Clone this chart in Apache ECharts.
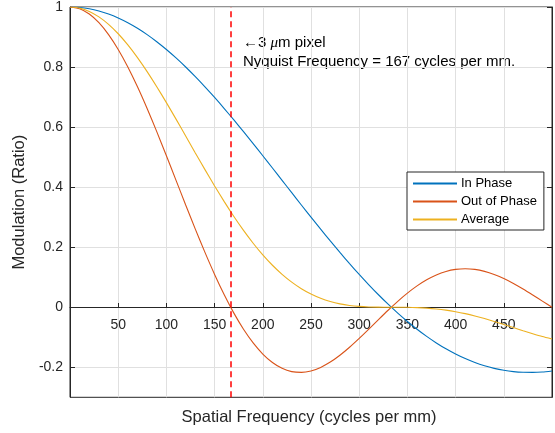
<!DOCTYPE html>
<html><head><meta charset="utf-8">
<script src="https://cdn.jsdelivr.net/npm/echarts@6/dist/echarts.min.js"></script>
<style>html,body{margin:0;padding:0;background:#fff}#c{width:555px;height:433px}</style>
</head><body><div id="c"></div>
<script>
const freq = [0,10,20,30,40,50,60,70,80,90,100,110,120,130,140,150,160,170,180,190,200,210,220,230,240,250,260,270,280,290,300,310,320,330,340,350,360,370,380,390,400,410,420,430,440,450,460,470,480,490,500];
const inPhase = [1,0.9985,0.9941,0.9867,0.9765,0.9634,0.9476,0.9290,0.9079,0.8843,0.8584,0.8303,0.8001,0.7679,0.7341,0.6987,0.6618,0.6238,0.5848,0.5450,0.5046,0.4637,0.4226,0.3816,0.3406,0.3001,0.2601,0.2209,0.1826,0.1453,0.1093,0.0747,0.0416,0.0101,-0.0196,-0.0474,-0.0733,-0.0971,-0.1189,-0.1385,-0.1559,-0.1711,-0.1842,-0.1950,-0.2036,-0.2101,-0.2145,-0.2168,-0.2171,-0.2156,-0.2122];
const outPhase = [1,0.9941,0.9765,0.9476,0.9079,0.8584,0.8001,0.7341,0.6618,0.5848,0.5046,0.4226,0.3406,0.2601,0.1826,0.1093,0.0416,-0.0196,-0.0733,-0.1189,-0.1559,-0.1842,-0.2036,-0.2145,-0.2171,-0.2122,-0.2004,-0.1827,-0.1600,-0.1334,-0.1039,-0.0729,-0.0412,-0.0101,0.0196,0.0468,0.0710,0.0914,0.1076,0.1192,0.1261,0.1284,0.1261,0.1195,0.1091,0.0954,0.0790,0.0605,0.0407,0.0203,0.0000];
const average = [1,0.9963,0.9853,0.9671,0.9422,0.9109,0.8738,0.8315,0.7849,0.7346,0.6815,0.6265,0.5704,0.5140,0.4583,0.4040,0.3517,0.3021,0.2558,0.2131,0.1743,0.1398,0.1095,0.0835,0.0617,0.0440,0.0298,0.0191,0.0113,0.0060,0.0027,0.0009,0.0002,0.0000,0.0000,-0.0003,-0.0012,-0.0029,-0.0057,-0.0097,-0.0149,-0.0214,-0.0291,-0.0378,-0.0473,-0.0574,-0.0678,-0.0782,-0.0882,-0.0977,-0.1061];
const yTicks = [-0.2,0,0.2,0.4,0.6,0.8,1];
const xTicks = [50,100,150,200,250,300,350,400,450];
const nyquist = 166.7;
const seriesNames = ['In Phase','Out of Phase','Average'];

const FONT = "'Liberation Sans', Arial, Helvetica, sans-serif";
const AX = '#262626';
const GRID = '#e0e0e0';
const pairs = v => freq.map((f,i)=>[f, v[i]]);

const G_TOP = 6, G_BOTTOM = 35.7, H = 433;
const Y_MIN = -0.3, Y_MAX = 1;
const zeroOffset = -(0 - Y_MIN) / (Y_MAX - Y_MIN) * (H - G_TOP - G_BOTTOM);

const chart = echarts.init(document.getElementById('c'), null, {renderer:'canvas'});
chart.setOption({
  animation:false,
  backgroundColor:'#fff',
  grid:{left:70, right:-4, top:G_TOP, bottom:G_BOTTOM, show:true, borderColor:AX, borderWidth:1, backgroundColor:'transparent', containLabel:false},
  xAxis:[{type:'value', min:0, max:500, interval:50, position:'bottom', offset:zeroOffset,
    axisLine:{onZero:false, lineStyle:{color:AX, width:1}},
    axisTick:{inside:true, length:4, lineStyle:{color:AX}},
    axisLabel:{margin:11, color:AX, fontSize:14, fontFamily:FONT, formatter:v=> xTicks.indexOf(v)>=0 ? String(v) : ''},
    splitLine:{show:true, lineStyle:{color:GRID, width:1}}
  }],
  yAxis:[{type:'value', min:Y_MIN, max:Y_MAX, position:'left',
    axisLine:{show:true, onZero:false, lineStyle:{color:AX, width:1}},
    axisTick:{inside:true, length:5, customValues:yTicks, lineStyle:{color:AX}},
    axisLabel:{margin:7, color:AX, fontSize:14, fontFamily:FONT, customValues:yTicks, formatter:v=>String(Math.round(v*10)/10)},
    splitLine:{show:true, lineStyle:{color:GRID, width:1}},
    name:'Modulation (Ratio)', nameLocation:'middle', nameGap:37, nameTextStyle:{color:AX, fontSize:16.5, fontFamily:FONT}
  },{type:'value', min:Y_MIN, max:Y_MAX, position:'right',
    axisLine:{show:true, onZero:false, lineStyle:{color:AX}},
    axisTick:{inside:true, length:5, customValues:yTicks, lineStyle:{color:AX}},
    axisLabel:{show:false}, splitLine:{show:false}
  }],
  legend:{orient:'vertical', left:407, top:172, padding:[5,7,4,5], itemWidth:44, itemHeight:14, itemGap:5,
    borderColor:AX, borderWidth:1, backgroundColor:'#fff', borderRadius:0,
    itemStyle:{opacity:0},
    textStyle:{fontSize:13, color:'#000', fontFamily:FONT, padding:[0,0,0,-1]}, data:seriesNames},
  graphic:[
    {type:'text', x:309, y:417, style:{text:'Spatial Frequency (cycles per mm)', fill:AX, font:"16.5px "+FONT, textAlign:'center', textVerticalAlign:'middle'}},
    {type:'text', x:243, y:43, style:{rich:{it:{fontStyle:'italic', fontSize:15, fontFamily:"'Liberation Serif', serif"}, n:{fontSize:15, fontFamily:FONT}}, text:'{n|\u21903 }{it|\u03bc}{n|m pixel}', fill:'#000', textVerticalAlign:'middle', font:"15px "+FONT}},
    {type:'text', x:243, y:62, style:{text:'Nyquist Frequency = 167 cycles per mm.', fill:'#000', font:"15px "+FONT, textVerticalAlign:'middle'}}
  ],
  series:[
    {name:seriesNames[0], type:'line', data:pairs(inPhase), symbol:'none', smooth:0.2, lineStyle:{color:'#0072BD', width:1.1}, itemStyle:{color:'#0072BD'}, z:3},
    {name:seriesNames[1], type:'line', data:pairs(outPhase), symbol:'none', smooth:0.2, lineStyle:{color:'#D95319', width:1.1}, itemStyle:{color:'#D95319'}, z:3,
      markLine:{silent:true, symbol:'none', label:{show:false}, lineStyle:{color:'#FF0000', type:[6,4], width:1.5}, data:[{xAxis:nyquist}]}},
    {name:seriesNames[2], type:'line', data:pairs(average), symbol:'none', smooth:0.2, lineStyle:{color:'#EDB120', width:1.1}, itemStyle:{color:'#EDB120'}, z:3}
  ]
});
</script></body></html>
